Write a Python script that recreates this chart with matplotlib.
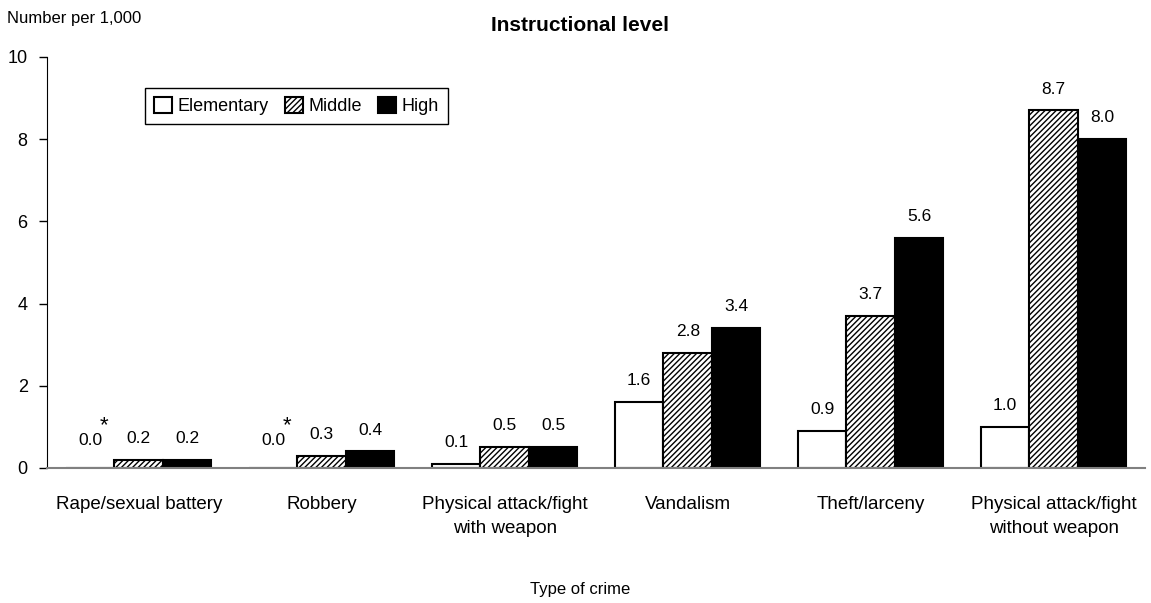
import numpy as np
import matplotlib
matplotlib.use('Agg')
import matplotlib.pyplot as plt

plt.rcParams['font.family'] = ['Liberation Sans Narrow', 'Liberation Sans', 'DejaVu Sans']
plt.rcParams['hatch.linewidth'] = 1.0

crimes = ['Rape/sexual battery', 'Robbery', 'Physical attack/fight\nwith weapon',
          'Vandalism', 'Theft/larceny', 'Physical attack/fight\nwithout weapon']
levels = ['Elementary', 'Middle', 'High']
elementary = [0.0, 0.0, 0.1, 1.6, 0.9, 1.0]
middle = [0.2, 0.3, 0.5, 2.8, 3.7, 8.7]
high = [0.2, 0.4, 0.5, 3.4, 5.6, 8.0]
footnoted = [True, True, False, False, False, False]  # elementary values marked *

fig = plt.figure(figsize=(11.51, 6.03), dpi=100)
ax = fig.add_axes([0.041, 0.224, 0.954, 0.6815])

x = np.arange(len(crimes))
w = 0.265
styles = [dict(facecolor='white', hatch=None),
          dict(facecolor='white', hatch='//////'),
          dict(facecolor='black', hatch=None)]
series = [elementary, middle, high]
for i, (vals, st, lab) in enumerate(zip(series, styles, levels)):
    pos = x + (i - 1) * w
    ax.bar(pos, vals, w, edgecolor='black', linewidth=1.5, label=lab, **st)
    for j, (p, v) in enumerate(zip(pos, vals)):
        if i == 0 and footnoted[j]:
            ax.annotate('%.1f' % v, (p, v), xytext=(0, 14), textcoords='offset points',
                        ha='center', va='bottom', fontsize=12.5)
            ax.annotate('*', (p, v), xytext=(10, 23), textcoords='offset points',
                        ha='center', va='bottom', fontsize=16)
        else:
            ax.annotate('%.1f' % v, (p, v), xytext=(0, 10), textcoords='offset points',
                        ha='center', va='bottom', fontsize=12.5)

ax.set_xlim(-0.5, 5.5)
ax.set_ylim(0, 10)
ax.set_yticks(range(0, 11, 2))
ax.tick_params(axis='y', labelsize=13, length=6, width=1, direction='out', pad=8)
ax.tick_params(axis='x', length=0, labelsize=13.5, pad=20)
ax.set_xticks(x)
ax.set_xticklabels(crimes, linespacing=1.55)
ax.spines['top'].set_visible(False)
ax.spines['right'].set_visible(False)
ax.spines['bottom'].set_color('#808080')
ax.spines['bottom'].set_linewidth(1.5)

ax.legend(loc='upper left', bbox_to_anchor=(0.089, 0.925), ncol=3, fontsize=13,
          frameon=True, fancybox=False, edgecolor='black', framealpha=1,
          handlelength=1.0, handleheight=1.0, handletextpad=0.3, columnspacing=0.9,
          borderpad=0.5, borderaxespad=0)

fig.text(0.006, 0.97, 'Number per 1,000', fontsize=12, va='center', ha='left')
fig.text(0.504, 0.958, 'Instructional level', fontsize=15, fontweight='bold',
         va='center', ha='center')
fig.text(0.504, 0.022, 'Type of crime', fontsize=12, va='center', ha='center')

fig.savefig('out.png', dpi=100)
